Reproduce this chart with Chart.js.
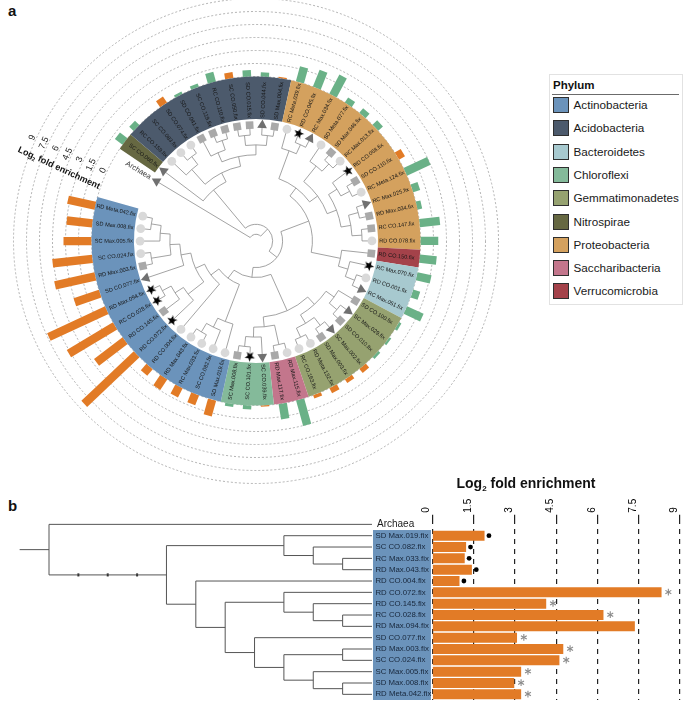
<!DOCTYPE html>
<html>
<head>
<meta charset="utf-8">
<script src="https://cdn.jsdelivr.net/npm/chart.js@4.4.1/dist/chart.umd.min.js"></script>
<style>
html,body{margin:0;padding:0;background:#fff;}
body{width:685px;height:702px;position:relative;overflow:hidden;font-family:"Liberation Sans",Arial,Helvetica,sans-serif;color:#111;}
canvas{position:absolute;}
#ca{left:6px;top:-9px;}
#cb{left:0;top:470px;}
.plab{position:absolute;font-weight:bold;font-size:15px;line-height:1;}
#legend{position:absolute;left:549px;top:74px;width:134px;height:231px;border:1px solid #e2e2e2;box-sizing:border-box;}
#legend .lt{position:absolute;left:3px;top:5px;font-weight:bold;font-size:11.5px;line-height:1;}
#legend .ll{position:absolute;left:2px;top:19px;width:127px;height:0;border-top:1.5px solid #6b6b6b;}
.li{position:absolute;left:2.5px;height:16px;font-size:11.7px;line-height:16px;white-space:nowrap;color:#1a1a1a;}
.li span.sw{display:inline-block;width:14px;height:14px;border:1px solid #2f2f2f;vertical-align:top;margin-right:5px;}
#btitle{position:absolute;left:526px;top:476px;transform:translateX(-50%);font-weight:bold;font-size:14px;white-space:nowrap;line-height:1;}
#btitle sub{font-size:8px;vertical-align:-3px;}
</style>
</head>
<body>
<div class="plab" style="left:8px;top:3px;">a</div>
<div class="plab" style="left:8px;top:498px;">b</div>
<canvas id="ca" width="500" height="500"></canvas>
<canvas id="cb" width="685" height="232"></canvas>
<div id="legend"><div class="lt">Phylum</div><div class="ll"></div></div>
<div id="btitle">Log<sub>2</sub> fold enrichment</div>
<script>
const FONT = '"Liberation Sans", Arial, Helvetica, sans-serif';
Chart.defaults.font.family = FONT;

// ---------------- data ----------------
const phylumNames  = ['Actinobacteria','Acidobacteria','Bacteroidetes','Chloroflexi','Gemmatimonadetes','Nitrospirae','Proteobacteria','Saccharibacteria','Verrucomicrobia'];
const phylumCodes  = ['Act','Aci','Bac','Chl','Gem','Nit','Pro','Sac','Ver'];
const phylumColors = ['#6B93BB','#4C5A6C','#A7C9CF','#84BA9A','#96A270','#666842','#D4A15E','#C3768C','#A4424A'];

// panel a : tips in clockwise order starting at Archaea
const tipNames = ['Archaea','SC CO.060.fix','RC CO.159.fix','SC CO.083.fix','SD CO.074.fix','SD CO.041.fix','SC CO.119.fix','RC CO.110.fix','SC CO.050.fix','SD CO.015.fix',
 'SD CO.044.fix','SD Max.004.fix','RC Meta.039.fix','RD CO.045.fix','RC Max.034.fix','SD Meta.077.fix','SD Max.046.fix','RC Max.013.fix','RD CO.068.fix','SD CO.110.fix',
 'RC Meta.124.fix','RC Max.025.fix','RD Max.034.fix','RC CO.147.fix','RD CO.078.fix','RD CO.150.fix','RC Max.070.fix','RD CO.001.fix','RC Max.051.fix','SD CO.100.fix',
 'SC Max.029.fix','SD CO.010.fix','SC Max.002.fix','SD Max.003.fix','RD Meta.132.fix','RC CO.163.fix','RD Max.115.fix','RD Max.117.fix','SC CO.039.fix','SC CO.101.fix',
 'SC Max.008.fix','SD Max.019.fix','SC CO.082.fix','RC Max.033.fix','RD Max.043.fix','RD CO.004.fix','RD CO.072.fix','RD CO.145.fix','RC CO.028.fix','RD Max.094.fix',
 'SD CO.077.fix','RD Max.003.fix','SC CO.024.fix','SC Max.005.fix','SD Max.008.fix','RD Meta.042.fix'];
const tipPhylum = ['-','Nit','Aci','Aci','Aci','Aci','Aci','Aci','Aci','Aci',
 'Aci','Aci','Pro','Pro','Pro','Pro','Pro','Pro','Pro','Pro',
 'Pro','Pro','Pro','Pro','Pro','Ver','Bac','Bac','Bac','Gem',
 'Gem','Gem','Gem','Gem','Gem','Gem','Sac','Sac','Chl','Chl',
 'Chl','Act','Act','Act','Act','Act','Act','Act','Act','Act',
 'Act','Act','Act','Act','Act','Act'];
// tip symbol: C light circle, S grey square, T dark triangle, X black star
const tipMarker = ['T','T','C','C','C','S','S','S','S','S',
 'T','S','C','X','T','C','S','C','X','S',
 'C','T','S','S','C','S','X','C','T','S',
 'T','S','T','S','C','C','C','S','T','X',
 'S','C','C','C','C','C','X','S','X','X',
 'T','S','C','C','C','C'];
// log2 fold enrichment per tip and bar group (O orange / G green)
const foldA = [null,1.1,0.7,0,0.85,0.3,0.4,1.15,0.7,0.75,
 0.5,0.15,1.8,2.1,2.5,0.7,0.7,0.75,0,0.8,
 3.0,0.85,0.55,2.35,2.05,1.95,1.65,0.85,2.1,0.3,
 0.25,0.3,0.6,0.5,0.65,0.4,3.05,1.8,0.15,0.45,
 0.35,1.90,1.23,1.18,1.44,0.99,8.33,4.14,6.22,7.36,
 3.08,4.76,4.62,3.23,2.98,3.23];
const groupA = ['','G','G','','O','G','G','G','O','G',
 'G','O','G','G','G','G','G','G','','O',
 'G','G','G','G','G','G','G','G','G','G',
 'G','G','O','O','O','O','G','G','O','G',
 'G','O','O','O','O','O','O','O','O','O',
 'O','O','O','O','O','O'];
const tickValsA   = [0,1.5,3,4.5,6,7.5,9];
const tickLabelsA = ['0','1.5','3','4.5','6','7.5','9'];

// tree topology of panel a (tip indices)
const ACIDO  = [1,[[2,[3,4]],[[5,[6,7]],[[8,9],[10,11]]]]];
const PROTEO = [[12,[13,14]],[[15,[16,17]],[[18,[19,20]],[[21,22],[23,24]]]]];
const VERBAC = [25,[26,[27,28]]];
const GEMM   = [[29,[30,31]],[[32,33],[34,35]]];
const SACC   = [36,37];
const CHLO   = [38,[39,40]];
const ACTIN  = [[41,[42,[43,44]]],[45,[[46,[47,[48,49]]],[50,[[51,52],[53,[54,55]]]]]]];
const treeA  = [0,[ACIDO,[[PROTEO,VERBAC],[[GEMM,[SACC,CHLO]],ACTIN]]]];

// panel b
const rowsB = ['Archaea','SD Max.019.fix','SC CO.082.fix','RC Max.033.fix','RD Max.043.fix','RD CO.004.fix','RD CO.072.fix','RD CO.145.fix',
 'RC CO.028.fix','RD Max.094.fix','SD CO.077.fix','RD Max.003.fix','SC CO.024.fix','SC Max.005.fix','SD Max.008.fix','RD Meta.042.fix'];
const foldB = [null,1.90,1.23,1.18,1.44,0.99,8.33,4.14,6.22,7.36,3.08,4.76,4.62,3.23,2.98,3.23];
const sigB  = ['','dot','dot','dot','dot','dot','ast','ast','ast','','ast','ast','ast','ast','ast','ast'];
const tickValsB   = [0,1.5,3,4.5,6,7.5,9];
const tickLabelsB = ['0','1.5','3','4.5','6','7.5','9'];
// rows 1..15 = Actinobacteria clade; three collapsed nodes between root and clade
const treeB = [0,[[[[[1,[2,[3,4]]],[5,[[6,[7,[8,9]]],[10,[[11,12],[13,[14,15]]]]]]]]]]];

// ---------------- helpers ----------------
const colorOf = code => phylumColors[phylumCodes.indexOf(code)];
const ORANGE = '#E27B26', GREEN = '#6AB187';
function treeHeight(n){ return Array.isArray(n) ? 1 + Math.max(...n.map(treeHeight)) : 0; }
function layoutTree(n, H, nodes){
  if (!Array.isArray(n)) return {pos:n, depth:H};
  const kids = n.map(k => layoutTree(k, H, nodes));
  const depth = H - treeHeight(n);
  const pos = kids.reduce((s,k)=>s+k.pos,0)/kids.length;
  nodes.push({depth,pos,kids});
  return {pos,depth};
}

// legend
phylumNames.forEach((p,i)=>{
  const d = document.createElement('div');
  d.className='li'; d.style.top = (22 + 23.3*i)+'px';
  d.innerHTML = '<span class="sw" style="background:'+phylumColors[i]+'"></span>'+p;
  document.getElementById('legend').appendChild(d);
});

// ---------------- panel a ----------------
const SLOTS = tipNames.length + 2;          // two empty slots form the gap holding the axis
const START_ANGLE = 301;                    // degrees (Chart.js radial start angle)
const AXIS_SLOT = tipNames.length + 1;
const BAND_IN = -4.9, MARK_V = -5.6, TREE_V0 = -18.2;
const slotLabels = tipNames.concat(['','']);

const starImg = document.createElement('canvas');
starImg.width = 11; starImg.height = 11;
(function(){ const c = starImg.getContext('2d'); c.fillStyle='#000'; c.beginPath();
  for (let k=0;k<10;k++){ const rr = k%2 ? 2.2 : 5.4; const a = -Math.PI/2 + k*Math.PI/5;
    c.lineTo(5.5+rr*Math.cos(a), 5.8+rr*Math.sin(a)); } c.closePath(); c.fill(); })();

const mStyle = {C:'circle', S:'rect', T:'triangle', X:starImg};
const mRad   = {C:4.4, S:5.4, T:5.6, X:5};
const mCol   = {C:'#D9D9D9', S:'#A9A9A9', T:'#707070', X:'#000'};

const polarPlugin = {
  id:'polarExtras',
  beforeDatasetsDraw(chart){
    const s = chart.scales.r, ctx = chart.ctx;
    const cx = s.xCenter, cy = s.yCenter;
    const step = 2*Math.PI/SLOTS;
    const base = s.getIndexAngle(0) - Math.PI/2;
    const ang = i => base + i*step;
    const R = v => s.getDistanceFromCenterForValue(v);
    ctx.save();
    // bars
    foldA.forEach((v,i)=>{
      if (!v) return;
      const r0 = R(0), r1 = R(v);
      ctx.save(); ctx.translate(cx,cy); ctx.rotate(ang(i));
      ctx.fillStyle = groupA[i]==='O' ? ORANGE : GREEN;
      ctx.fillRect(r0, -4.2, r1-r0, 8.4);
      ctx.restore();
    });
    // phylum band (contiguous runs)
    let i = 1;
    while (i < tipPhylum.length){
      let j = i; while (j+1 < tipPhylum.length && tipPhylum[j+1]===tipPhylum[i]) j++;
      const a1 = ang(i-0.5), a2 = ang(j+0.5);
      ctx.beginPath(); ctx.arc(cx,cy,R(0),a1,a2); ctx.arc(cx,cy,R(BAND_IN),a2,a1,true); ctx.closePath();
      ctx.fillStyle = colorOf(tipPhylum[i]); ctx.fill();
      i = j+1;
    }
    // tip labels
    ctx.textBaseline='middle';
    tipNames.forEach((t,k)=>{
      const a = ang(k);
      const isArch = tipPhylum[k]==='-';
      ctx.font = (isArch ? '7.6px ' : '5.6px ') + FONT;
      ctx.fillStyle = isArch ? '#333' : '#161616';
      ctx.save(); ctx.translate(cx,cy);
      const r = R(BAND_IN) + 1.2;
      if (Math.cos(a) >= 0){ ctx.rotate(a); ctx.textAlign='left'; ctx.fillText(t, r, 0); }
      else { ctx.rotate(a+Math.PI); ctx.textAlign='right'; ctx.fillText(t, -r, 0); }
      ctx.restore();
    });
    // tree
    const H = treeHeight(treeA), nodes = [];
    layoutTree(treeA, H, nodes);
    const rd = d => R(TREE_V0 + d/H*(MARK_V - TREE_V0));
    ctx.strokeStyle = '#8c8c8c'; ctx.lineWidth = 0.8;
    nodes.forEach(n=>{
      const rn = rd(n.depth);
      const ps = n.kids.map(k=>k.pos);
      ctx.beginPath(); ctx.arc(cx,cy,rn,ang(Math.min(...ps)),ang(Math.max(...ps))); ctx.stroke();
      n.kids.forEach(k=>{
        const a = ang(k.pos), rk = rd(k.depth);
        ctx.beginPath(); ctx.moveTo(cx+rn*Math.cos(a), cy+rn*Math.sin(a));
        ctx.lineTo(cx+rk*Math.cos(a), cy+rk*Math.sin(a)); ctx.stroke();
      });
    });
    // axis labels in the gap
    const aa = ang(AXIS_SLOT);
    ctx.fillStyle = '#1a1a1a'; ctx.font = '9px ' + FONT; ctx.textAlign='center'; ctx.textBaseline='middle';
    tickValsA.forEach((v,k)=>{
      const r = R(v) + 4;
      ctx.save(); ctx.translate(cx + r*Math.cos(aa), cy + r*Math.sin(aa)); ctx.rotate(aa + Math.PI/2);
      ctx.fillText(tickLabelsA[k], 0, 0); ctx.restore();
    });
    // axis title
    ctx.save(); ctx.translate(cx,cy); ctx.rotate(aa + Math.PI);
    const fMain = 'bold 9px ' + FONT, fSub = 'bold 5.5px ' + FONT;
    ctx.font = fMain; const w1 = ctx.measureText('Log').width, w3 = ctx.measureText(' fold enrichment').width;
    ctx.font = fSub; const w2 = ctx.measureText('2').width;
    const mid = (R(0) + R(9))/2 + 6;
    let x = -mid - (w1+w2+w3)/2; const y = 19;
    ctx.textAlign='left'; ctx.textBaseline='alphabetic'; ctx.fillStyle='#111';
    ctx.font = fMain; ctx.fillText('Log', x, y); x += w1;
    ctx.font = fSub; ctx.fillText('2', x, y+2); x += w2;
    ctx.font = fMain; ctx.fillText(' fold enrichment', x, y);
    ctx.restore();
    ctx.restore();
  }
};

new Chart(document.getElementById('ca'), {
  type:'radar',
  data:{ labels: slotLabels, datasets:[{
    data: slotLabels.map((_,i)=> i < tipNames.length ? MARK_V : null),
    showLine:false, fill:false, borderWidth:0,
    pointStyle: tipMarker.map(m=>mStyle[m]),
    pointRadius: tipMarker.map(m=>mRad[m]),
    pointRotation: tipMarker.map((m,i)=> START_ANGLE + i*360/SLOTS),
    pointBackgroundColor: tipMarker.map(m=>mCol[m]),
    pointBorderWidth:0, pointBorderColor:'rgba(0,0,0,0)'
  }]},
  options:{
    responsive:false, animation:false, events:[],
    layout:{padding:0},
    plugins:{legend:{display:false}, tooltip:{enabled:false}},
    scales:{ r:{
      min:-18.98, max:9.865, startAngle:START_ANGLE,
      afterBuildTicks: s => { s.ticks = [s.min].concat(tickValsA).map(v=>({value:v})); },
      ticks:{display:false},
      grid:{circular:true, lineWidth:0.8, color: c => (c.tick && c.tick.value >= 0) ? '#a0a0a0' : 'rgba(0,0,0,0)'},
      border:{dash:[2,2]},
      angleLines:{display:false},
      pointLabels:{display:false}
    }}
  },
  plugins:[polarPlugin]
});

// ---------------- panel b ----------------
const treePluginB = {
  id:'treeB',
  beforeDatasetsDraw(chart){
    const ctx = chart.ctx, xt = chart.scales.xt, xs = chart.scales.x, ys = chart.scales.y;
    const H = treeHeight(treeB), nodes = [];
    const root = layoutTree(treeB, H, nodes);
    const X = d => xt.getPixelForValue(d), Y = p => ys.getPixelForValue(p);
    ctx.save();
    // label box
    const bx0 = X(H) + 1, bx1 = xs.getPixelForValue(0) - 1.3;
    ctx.fillStyle = colorOf('Act');
    ctx.fillRect(bx0, Y(0.5), bx1-bx0, Y(rowsB.length-0.5)-Y(0.5));
    ctx.textBaseline='middle'; ctx.textAlign='left';
    rowsB.forEach((t,i)=>{
      if (i===0){ ctx.font='10px '+FONT; ctx.fillStyle='#1a1a1a'; ctx.fillText(t, bx0+4, Y(i)); }
      else { ctx.font='7.8px '+FONT; ctx.fillStyle='#17263a'; ctx.fillText(t, bx0+2.5, Y(i)); }
    });
    // tree
    ctx.strokeStyle='#555'; ctx.lineWidth=1;
    ctx.beginPath(); ctx.moveTo(X(-1), Y(root.pos)); ctx.lineTo(X(0), Y(root.pos)); ctx.stroke();
    nodes.forEach(n=>{
      const ps = n.kids.map(k=>k.pos);
      if (n.kids.length > 1){
        ctx.beginPath(); ctx.moveTo(X(n.depth), Y(Math.min(...ps))); ctx.lineTo(X(n.depth), Y(Math.max(...ps))); ctx.stroke();
      } else {
        ctx.fillStyle='#222'; ctx.fillRect(X(n.depth)-1, Y(n.pos)-1.5, 2, 3);
      }
      n.kids.forEach(k=>{
        ctx.beginPath(); ctx.moveTo(X(n.depth), Y(k.pos)); ctx.lineTo(X(k.depth), Y(k.pos)); ctx.stroke();
      });
    });
    ctx.restore();
  },
  afterDatasetsDraw(chart){
    const ctx = chart.ctx, xs = chart.scales.x, ys = chart.scales.y;
    ctx.save();
    sigB.forEach((s,i)=>{
      if (!s) return;
      const x = xs.getPixelForValue(foldB[i]), y = ys.getPixelForValue(i);
      if (s==='dot'){ ctx.fillStyle='#000'; ctx.beginPath(); ctx.arc(x+4.4, y, 2.4, 0, 2*Math.PI); ctx.fill(); }
      else {
        const cx = x+6.8, cy = y-0.3, r = 3.4;
        ctx.strokeStyle='#8a8a8a'; ctx.lineWidth=1.1;
        [90,30,150].forEach(d=>{ const a=d*Math.PI/180; ctx.beginPath();
          ctx.moveTo(cx-r*Math.cos(a), cy-r*Math.sin(a)); ctx.lineTo(cx+r*Math.cos(a), cy+r*Math.sin(a)); ctx.stroke(); });
      }
    });
    ctx.restore();
  }
};

new Chart(document.getElementById('cb'), {
  type:'bar',
  data:{ labels: rowsB, datasets:[{ data: foldB, backgroundColor: ORANGE, borderWidth:0, barPercentage:0.88, categoryPercentage:1 }] },
  options:{
    indexAxis:'y', responsive:false, animation:false, events:[],
    layout:{padding:{left:13.8, right:5, top:0, bottom:2}},
    plugins:{legend:{display:false}, tooltip:{enabled:false}},
    scales:{
      x:{ type:'linear', position:'top', min:-15.2, max:9,
        afterBuildTicks: s => { s.ticks = tickValsB.map(v=>({value:v})); },
        afterFit: s => { s.height = 48.7; },
        ticks:{ autoSkip:false, minRotation:90, maxRotation:90, padding:2, labelOffset:6.5, color:'#000', font:{size:10},
          callback:(v,i)=> tickLabelsB[i] },
        grid:{ color:'#222', lineWidth:1.2, tickLength:4, drawTicks:true, tickBorderDash:[5,5] },
        border:{ display:false, dash:[5,5] }
      },
      xt:{ type:'linear', axis:'x', position:'top', min:-1.199, max:21.49, display:false },
      y:{ type:'category', display:false, grid:{display:false} }
    }
  },
  plugins:[treePluginB]
});
</script>
</body>
</html>
